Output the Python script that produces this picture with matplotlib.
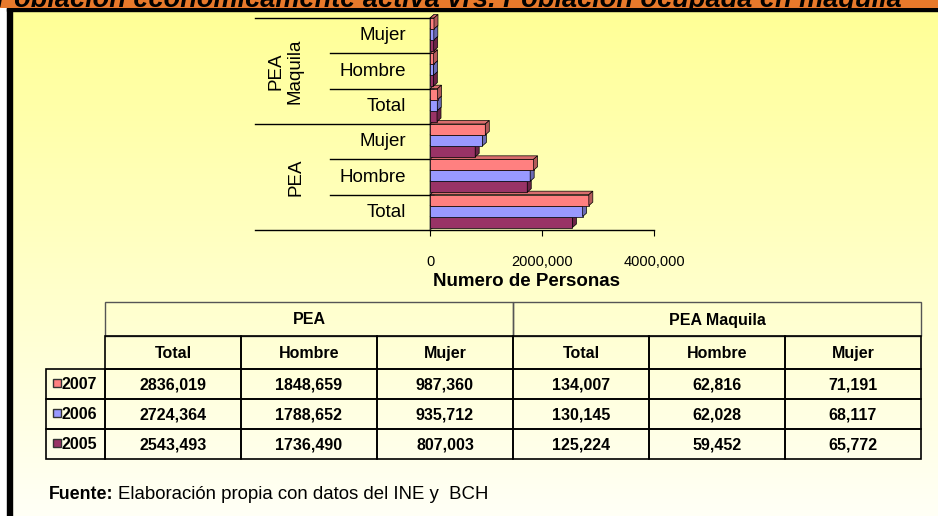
import numpy as np
import matplotlib as mpl
mpl.use('Agg')
import matplotlib.pyplot as plt
from matplotlib.patches import Polygon, Rectangle
from matplotlib.colors import to_rgb

plt.rcParams['font.family'] = ['Liberation Sans', 'DejaVu Sans']

# data
years = ['2007', '2006', '2005']
yearColors = ['#FF8080', '#9999FF', '#993366']
groups = ['PEA', 'PEA Maquila']
subLabels = ['Total', 'Hombre', 'Mujer']
pea2007 = [2836019, 1848659, 987360]
pea2006 = [2724364, 1788652, 935712]
pea2005 = [2543493, 1736490, 807003]
maq2007 = [134007, 62816, 71191]
maq2006 = [130145, 62028, 68117]
maq2005 = [125224, 59452, 65772]
xTicks = [0, 2000000, 4000000]

title = 'Población económicamente activa vrs. Población ocupada en maquila'
source = 'Elaboración propia con datos del INE y  BCH'

W, H = 938, 516


def pxRect(x0, y0, x1, y1):
    return [x0 / W, 1 - y1 / H, (x1 - x0) / W, (y1 - y0) / H]


def fmt(v):
    if v < 1000:
        return str(v)
    return "%d,%03d" % (v // 1000, v % 1000)


def shade(color, f):
    return tuple(c * f for c in to_rgb(color))


fig = plt.figure(figsize=(W / 100, H / 100), dpi=100)

# background, frame, gradient
bg = fig.add_axes([0, 0, 1, 1])
bg.set_xlim(0, W)
bg.set_ylim(H, 0)
bg.axis('off')
top = np.array([255, 255, 150]) / 255
bot = np.array([255, 255, 246]) / 255
t = np.linspace(0, 1, 256)[:, None, None]
grad = top * (1 - t) + bot * t
grad = np.repeat(grad, 2, axis=1)
bg.imshow(grad, extent=[11, W, H, 10], aspect='auto', zorder=0)
bg.add_patch(Rectangle((7, 8), W, 3, color='black', zorder=1))
bg.add_patch(Rectangle((7, 8), 5, H, color='black', zorder=1))

# title banner (cut at the top, like the source)
ban = fig.add_axes(pxRect(0, 0, W, 8))
ban.set_facecolor('#E8792B')
ban.set_xticks([])
ban.set_yticks([])
for s in ban.spines.values():
    s.set_visible(False)
ban.text(-0.004, 0.1, title, transform=ban.transAxes, fontsize=19.5,
         fontweight='bold', fontstyle='italic', va='baseline', ha='left',
         clip_on=True)

# bar chart
ax = fig.add_axes(pxRect(430, 18, 654, 230))
ax.patch.set_visible(False)
ax.set_xlim(0, 4000000)
ax.set_ylim(-0.5, 5.5)

series = [pea2007 + maq2007, pea2006 + maq2006, pea2005 + maq2005]
offsets = [0.345, 0.035, -0.275]
barH = 0.31
dx = 4 * 4000000 / 224.0
dy = 3.5 / (212 / 6.0)

# side wall
ax.add_patch(Polygon([(0, -0.5), (dx, -0.5 + dy), (dx, 5.5 + dy), (0, 5.5)],
                     closed=True, facecolor='#9A9A9A', edgecolor='#404040',
                     lw=0.6, clip_on=False, zorder=2))

z = 3
for cat in range(6):
    for k in [2, 1, 0]:
        v = series[k][cat]
        c = yearColors[k]
        yb = cat + offsets[k] - barH / 2
        yt = yb + barH
        ax.barh(cat + offsets[k], v, height=barH, color=c, edgecolor='black',
                lw=0.5, zorder=z, clip_on=False)
        ax.add_patch(Polygon([(0, yt), (dx, yt + dy), (v + dx, yt + dy), (v, yt)],
                             closed=True, facecolor=shade(c, 0.85), edgecolor='black',
                             lw=0.5, zorder=z, clip_on=False))
        ax.add_patch(Polygon([(v, yb), (v, yt), (v + dx, yt + dy), (v + dx, yb + dy)],
                             closed=True, facecolor=shade(c, 0.7), edgecolor='black',
                             lw=0.5, zorder=z, clip_on=False))
        z += 1

for s in ['top', 'right', 'left']:
    ax.spines[s].set_visible(False)
ax.spines['bottom'].set_linewidth(1)
ax.set_yticks([])
ax.set_xticks(xTicks)
ax.set_xticklabels([fmt(v) for v in xTicks])
ax.tick_params(axis='x', direction='out', length=4, pad=14, labelsize=10.5)

# category separators and labels
yt_ = ax.get_yaxis_transform()
for b in np.arange(-0.5, 6, 1.0):
    x0 = -0.78 if b in (-0.5, 2.5, 5.5) else -0.446
    ax.plot([x0, 0], [b, b], color='black', lw=1, transform=yt_, clip_on=False)
for cat in range(6):
    ax.text(-0.107, cat, subLabels[cat % 3], transform=yt_, ha='right',
            va='center', fontsize=13.5)
ax.text(-0.6, 1, groups[0], transform=yt_, rotation=90, ha='center',
        va='center', fontsize=13.5)
ax.text(-0.645, 4, groups[1].replace(' ', '\n'), transform=yt_, rotation=90,
        ha='center', va='center', fontsize=13.5, multialignment='center',
        linespacing=1.1)
ax.text(0.433, -0.245, 'Numero de Personas', transform=ax.transAxes,
        ha='center', va='center', fontsize=13.5, fontweight='bold')

# table
colX = [46, 105, 241, 377, 513, 649, 785, 921]
rowY = [302, 336, 369, 399, 429, 459]
tableRows = [pea2007 + maq2007, pea2006 + maq2006, pea2005 + maq2005]
fs = 11.5
half = 5.5  # half cap height in px, to sit text on its baseline
lc = 'black'

# header 1
for g, (xa, xb) in enumerate([(colX[1], colX[4]), (colX[4], colX[7])]):
    bg.add_patch(Rectangle((xa, rowY[0]), xb - xa, rowY[1] - rowY[0], fill=False,
                           edgecolor='#555555', lw=1, zorder=5))
    bg.text((xa + xb) / 2, (rowY[0] + rowY[1]) / 2 + half, groups[g], ha='center',
            va='baseline', fontsize=fs, fontweight='bold', zorder=6)
# header 2
for j in range(6):
    xa, xb = colX[j + 1], colX[j + 2]
    bg.add_patch(Rectangle((xa, rowY[1]), xb - xa, rowY[2] - rowY[1], fill=False,
                           edgecolor=lc, lw=1.2, zorder=5))
    bg.text((xa + xb) / 2, (rowY[1] + rowY[2]) / 2 + half, subLabels[j % 3],
            ha='center', va='baseline', fontsize=fs, fontweight='bold',
            zorder=6)
# data rows
for i in range(3):
    ya, yb = rowY[i + 2], rowY[i + 3]
    ym = (ya + yb) / 2
    bg.add_patch(Rectangle((colX[0], ya), colX[1] - colX[0], yb - ya, fill=False,
                           edgecolor=lc, lw=1.2, zorder=5))
    bg.add_patch(Rectangle((53, ym - 5), 8, 8, facecolor=yearColors[i],
                           edgecolor='#333333', lw=1, zorder=6))
    bg.text(62, ym + half - 0.5, years[i], ha='left', va='baseline', fontsize=fs,
            fontweight='bold', zorder=6)
    for j in range(6):
        xa, xb = colX[j + 1], colX[j + 2]
        bg.add_patch(Rectangle((xa, ya), xb - xa, yb - ya, fill=False,
                               edgecolor=lc, lw=1.2, zorder=5))
        bg.text((xa + xb) / 2, ym + half, fmt(tableRows[i][j]), ha='center',
                va='baseline', fontsize=fs, fontweight='bold', zorder=6)

# source note
srcBold = bg.text(49, 499, 'Fuente:', ha='left', va='baseline',
                  fontsize=12.8, fontweight='bold', zorder=6)
fig.canvas.draw()
bb = srcBold.get_window_extent()
bg.text(49 + bb.width + 4, 499, source, ha='left', va='baseline',
        fontsize=13.4, zorder=6)

fig.savefig('out.png', dpi=100)
